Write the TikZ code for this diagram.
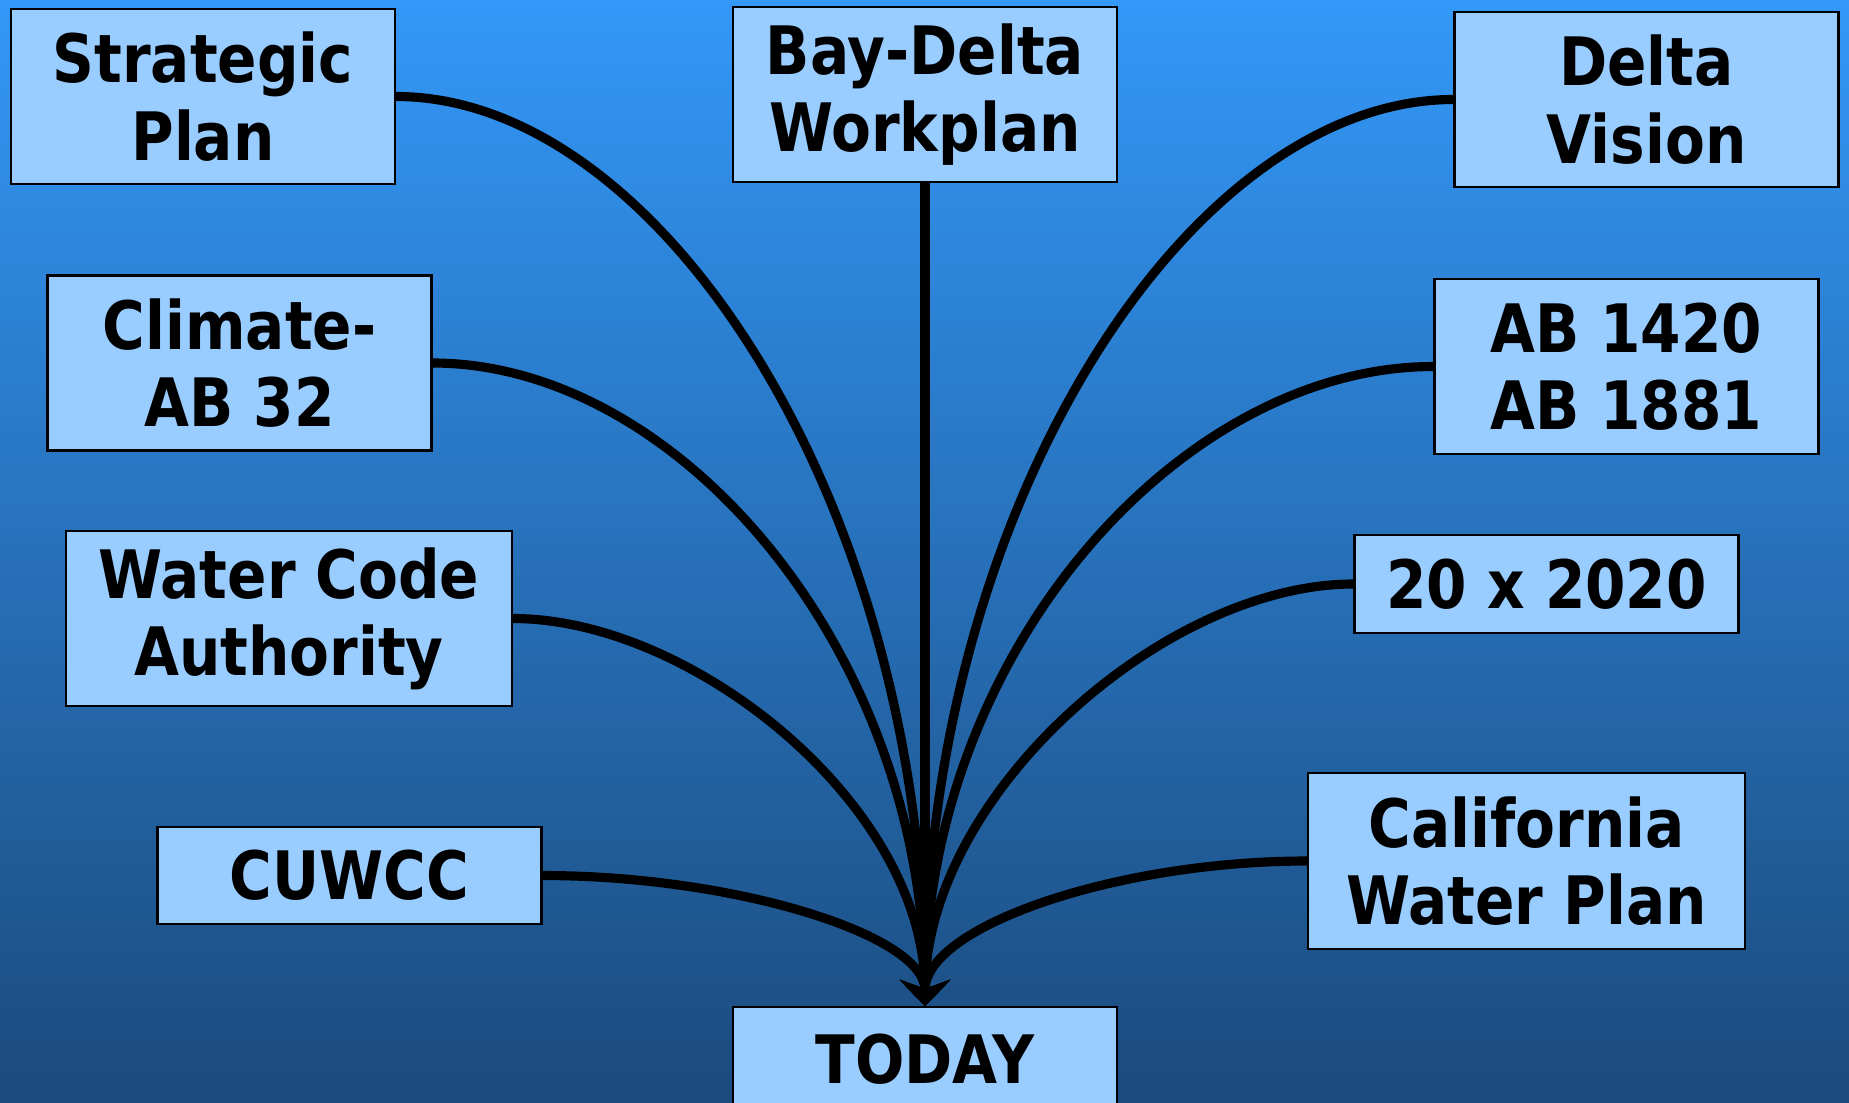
\documentclass[tikz,border=0pt]{standalone}
\usepackage{fontspec}
\setmainfont{DejaVu Sans}[FakeStretch=0.87]
\usetikzlibrary{arrows.meta}
\definecolor{boxblue}{HTML}{99CCFF}
\definecolor{topblue}{RGB}{51,152,248}
\definecolor{bottomblue}{RGB}{27,74,124}
\tikzset{
	plan/.style={draw=black, line width=0.6pt, fill=boxblue, align=center, inner sep=0pt,
		minimum width=38.4mm, minimum height=17.5mm, font=\fontsize{19}{22}\selectfont\bfseries},
	feed/.style={line width=2.6pt, -{Stealth[length=2.6mm,width=5mm,inset=0.9mm]}}
}
\begin{document}
\begin{tikzpicture}[x=1mm,y=1mm]

	\shade [top color=topblue, bottom color=bottomblue] (0,0) rectangle (184.9,110.2);%background
	\useasboundingbox (0,0) rectangle (184.9,110.2);
	\clip (0,0) rectangle (184.9,110.2);

	%left column
	\node [plan] (strat) at (20.3,100.55) {Strategic\\Plan};
	\node [plan] (climate) at (23.95,73.9) {Climate-\\AB 32};
	\node [plan, minimum width=44.6mm] (water) at (28.9,48.35) {Water Code\\Authority};
	\node [plan, minimum height=9.7mm] (cuwcc) at (34.95,22.65) {CUWCC};

	%middle
	\node [plan] (bay) at (92.5,100.75) {Bay-Delta\\Workplan};
	\node [plan, minimum height=10.4mm] (today) at (92.5,4.3) {TODAY};

	%right column
	\node [plan] (vision) at (164.65,100.25) {Delta\\Vision};
	\node [plan] (ab) at (162.65,73.55) {AB 1420\\AB 1881};
	\node [plan, minimum height=9.8mm] (twenty) at (154.65,51.8) {20 x 2020};
	\node [plan, minimum width=43.7mm, minimum height=17.6mm] (calif) at (152.65,24.1) {California\\Water Plan};

	%connectors
	\draw [feed] (bay.south) -- (today.north);
	\draw [feed] (strat.east) .. controls +(26.5,0) and +(0,50) .. (today.north);
	\draw [feed] (climate.east) .. controls +(24.7,0) and +(0,35.3) .. (today.north);
	\draw [feed] (water.east) .. controls +(18,0) and +(0,20) .. (today.north);
	\draw [feed] (cuwcc.east) .. controls +(19.2,0) and +(0,7.1) .. (today.north);
	\draw [feed] (vision.west) .. controls +(-26.5,0) and +(0,49.8) .. (today.north);
	\draw [feed] (ab.west) .. controls +(-25.5,0) and +(0,35.1) .. (today.north);
	\draw [feed] (twenty.west) .. controls +(-19,0) and +(0,21) .. (today.north);
	\draw [feed] (calif.west) .. controls +(-19.2,0) and +(0,7.9) .. (today.north);

\end{tikzpicture}
\end{document}
